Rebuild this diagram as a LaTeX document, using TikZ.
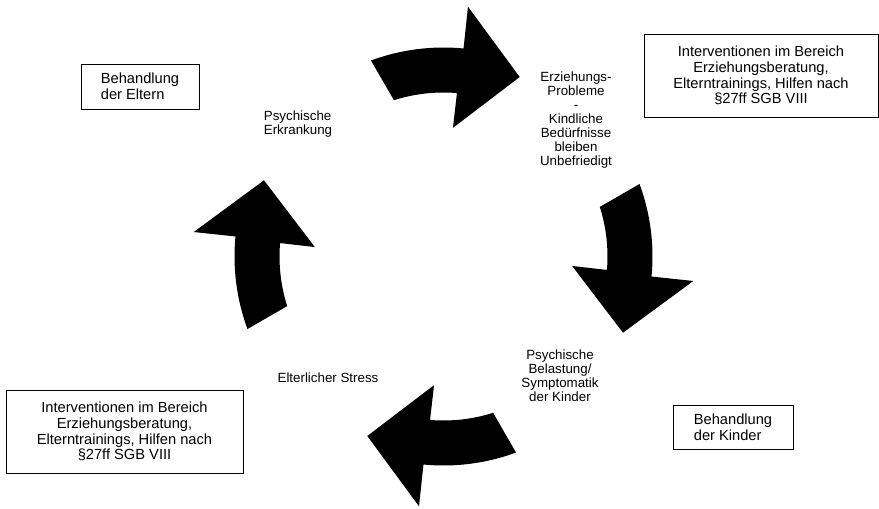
\documentclass[tikz,border=0pt]{standalone}
\usepackage{fontspec}
\setmainfont{Liberation Sans}

\tikzset{
  infobox/.style={draw, line width=0.75pt, align=center, inner sep=2pt,
    font=\fontsize{11}{11.8}\selectfont},
  stagetext/.style={align=center, inner sep=1pt,
    font=\fontsize{10}{10.6}\selectfont},
  cyclearrow/.style={fill=black, draw=none}
}

\begin{document}
\begin{tikzpicture}[x=0.75pt, y=0.75pt]

% Frame (879 x 508 px)
\useasboundingbox (0, 0) rectangle (879, -508);

% Cycle of curved block arrows around the centre
\coordinate (centre) at (443.5, -256.5);
\foreach \rot in {90, 0, -90, 180} {
  \begin{scope}[shift={(centre)}, rotate=\rot]
    \fill[cyclearrow] (20.3:209) arc[start angle=20.3, end angle=-5.5, radius=209]
      -- (-5.6:251) -- (-23:195) -- (-4.2:129)
      -- (-4.7:164) arc[start angle=-4.7, end angle=17.6, radius=164] -- cycle;
  \end{scope}
}

% Stages of the cycle
\node[stagetext, align=left] (erkrankung) at (298, -124) {Psychische\\Erkrankung};
\node[stagetext] (probleme) at (576, -120)
  {Erziehungs-\\Probleme\\-\\Kindliche\\Bedürfnisse\\bleiben\\Unbefriedigt};
\node[stagetext] (belastung) at (560, -376)
  {Psychische\\Belastung/\\Symptomatik\\der Kinder};
\node[stagetext] (stress) at (328, -378) {Elterlicher Stress};

% Interventions
\node[infobox, align=left, minimum width=88.5pt, minimum height=33.75pt]
  (beheltern) at (140, -86.5) {Behandlung\\der Eltern};
\node[infobox, minimum width=175.5pt, minimum height=62.25pt]
  (intervoben) at (761, -75.5)
  {Interventionen im Bereich\\Erziehungsberatung,\\Elterntrainings, Hilfen nach\\§27ff SGB VIII};
\node[infobox, align=left, minimum width=90pt, minimum height=33pt]
  (behkinder) at (733, -427) {Behandlung\\der Kinder};
\node[infobox, minimum width=177.75pt, minimum height=62.25pt]
  (intervunten) at (124.5, -431.5)
  {Interventionen im Bereich\\Erziehungsberatung,\\Elterntrainings, Hilfen nach\\§27ff SGB VIII};

\end{tikzpicture}
\end{document}
